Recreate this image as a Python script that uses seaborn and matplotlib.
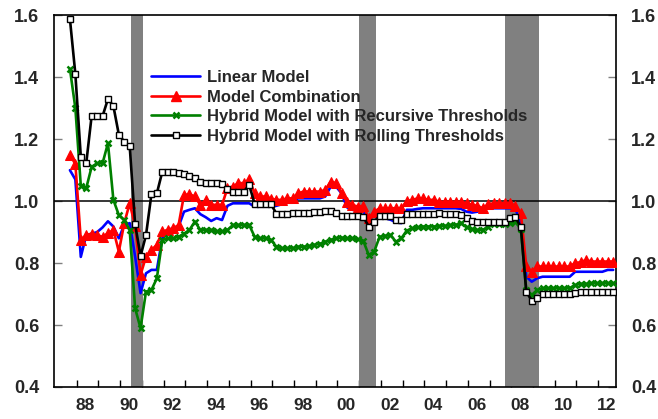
import matplotlib
matplotlib.use('Agg')
import matplotlib.pyplot as plt
from matplotlib.lines import Line2D
import numpy as np
import pandas as pd
import seaborn as sns

# Trimestres 1987Q3 - 2012Q3
quarters = pd.period_range('1987Q3', '2012Q3', freq='Q')

linear_model = [
    1.10, 1.07, 0.82, 0.89, 0.895, 0.90, 0.915, 0.935, 0.918, 0.88,
    0.923, 0.929, 0.821, 0.703, 0.767, 0.778, 0.778, 0.88, 0.907, 0.912,
    0.918, 0.966, 0.972, 0.977, 0.958, 0.948, 0.936, 0.945, 0.939, 0.985,
    0.993, 0.993, 0.993, 0.993, 0.982, 0.982, 0.982, 0.982, 0.985, 0.99,
    0.995, 1.0, 1.009, 1.009, 1.009, 1.009, 1.009, 1.015, 1.047, 1.047,
    1.025, 0.98, 0.972, 0.97, 0.966, 0.939, 0.955, 0.95, 0.945, 0.94,
    0.932, 0.929, 0.972, 0.972, 0.975, 0.977, 0.977, 0.977, 0.977, 0.977,
    0.977, 0.977, 0.975, 0.966, 0.963, 0.966, 0.972, 0.977, 0.977, 0.977,
    0.977, 0.977, 0.975, 0.93, 0.756, 0.74, 0.751, 0.756, 0.756, 0.756,
    0.756, 0.756, 0.756, 0.772, 0.772, 0.772, 0.772, 0.772, 0.772, 0.778, 0.778,
]

model_combination = [
    1.149, 1.12, 0.875, 0.89, 0.895, 0.89, 0.885, 0.896, 0.907, 0.837,
    0.929, 0.993, 0.92, 0.762, 0.821, 0.842, 0.859, 0.902, 0.907, 0.912,
    0.923, 1.02, 1.022, 1.015, 0.988, 1.004, 0.988, 0.988, 0.988, 1.042,
    1.047, 1.058, 1.058, 1.07, 1.025, 1.015, 1.015, 1.008, 1.004, 1.004,
    1.009, 1.009, 1.025, 1.031, 1.031, 1.031, 1.031, 1.036, 1.063, 1.058,
    1.025, 0.998, 0.988, 0.982, 0.985, 0.945, 0.966, 0.977, 0.977, 0.977,
    0.977, 0.977, 1.0, 1.004, 1.009, 1.009, 1.004, 1.004, 0.998, 0.998,
    0.998, 0.998, 0.998, 0.993, 0.988, 0.985, 0.977, 0.99, 0.993, 0.993,
    0.993, 0.993, 0.985, 0.961, 0.789, 0.772, 0.789, 0.789, 0.789, 0.789,
    0.789, 0.789, 0.789, 0.80, 0.803, 0.81, 0.805, 0.805, 0.805, 0.805, 0.805,
]

hybrid_recursive = [
    1.427, 1.30, 1.05, 1.042, 1.111, 1.122, 1.122, 1.187, 1.004, 0.955,
    0.939, 0.907, 0.654, 0.59, 0.708, 0.713, 0.751, 0.875, 0.88, 0.88,
    0.885, 0.895, 0.907, 0.934, 0.907, 0.907, 0.907, 0.902, 0.902, 0.907,
    0.923, 0.923, 0.923, 0.923, 0.885, 0.88, 0.88, 0.875, 0.853, 0.848,
    0.848, 0.848, 0.853, 0.853, 0.855, 0.859, 0.862, 0.869, 0.875, 0.88,
    0.882, 0.88, 0.88, 0.877, 0.872, 0.826, 0.837, 0.885, 0.888, 0.891,
    0.869, 0.88, 0.905, 0.912, 0.915, 0.918, 0.918, 0.918, 0.92, 0.92,
    0.923, 0.923, 0.93, 0.915, 0.91, 0.907, 0.907, 0.918, 0.925, 0.925,
    0.925, 0.929, 0.934, 0.91, 0.713, 0.697, 0.713, 0.719, 0.719, 0.719,
    0.719, 0.719, 0.719, 0.729, 0.733, 0.733, 0.735, 0.735, 0.735, 0.735, 0.735,
]

hybrid_rolling = [
    1.588, 1.41, 1.144, 1.122, 1.276, 1.276, 1.274, 1.33, 1.307, 1.215,
    1.192, 1.178, 0.925, 0.823, 0.89, 1.022, 1.025, 1.095, 1.095, 1.093,
    1.09, 1.087, 1.08, 1.075, 1.062, 1.06, 1.06, 1.058, 1.055, 1.04,
    1.031, 1.031, 1.031, 1.052, 0.991, 0.99, 0.99, 0.99, 0.96, 0.96,
    0.96, 0.962, 0.963, 0.963, 0.963, 0.965, 0.965, 0.968, 0.968, 0.962,
    0.952, 0.952, 0.952, 0.952, 0.95, 0.918, 0.934, 0.952, 0.952, 0.952,
    0.939, 0.939, 0.959, 0.959, 0.959, 0.96, 0.96, 0.96, 0.962, 0.96,
    0.96, 0.96, 0.955, 0.945, 0.935, 0.933, 0.933, 0.933, 0.933, 0.933,
    0.933, 0.946, 0.949, 0.916, 0.708, 0.679, 0.686, 0.70, 0.70, 0.70,
    0.70, 0.70, 0.70, 0.705, 0.708, 0.708, 0.708, 0.708, 0.708, 0.708, 0.708,
]

# Recesiones (años decimales)
recessions = [(1990.49, 1991.04), (2000.98, 2001.79), (2007.72, 2009.29)]

year_labels = ['88', '90', '92', '94', '96', '98', '00', '02', '04', '06', '08', '10', '12']
y_ticks = [0.4, 0.6, 0.8, 1.0, 1.2, 1.4, 1.6]

# Posición de cada trimestre en el eje (año decimal)
x = np.asarray(quarters.year + (quarters.quarter - 1) / 4 + 0.19)

sns.set_theme(style='white')
plt.rcParams['font.family'] = ['Liberation Sans', 'DejaVu Sans']
plt.rcParams['font.weight'] = 'bold'

fig = plt.figure(figsize=(6.58, 4.19), dpi=100)
ax = fig.add_axes([0.0825, 0.0764, 0.8537, 0.8871])

for start, end in recessions:
    ax.axvspan(start, end, color='#808080', zorder=1, lw=0)
ax.axhline(1.0, color='black', lw=1.1, zorder=2)

sns.lineplot(x=x, y=linear_model, ax=ax, color='#0000ff', lw=1.9, zorder=3)
sns.lineplot(x=x, y=model_combination, ax=ax, color='#ff0000', lw=1.9,
             marker='^', markersize=6.5, markeredgecolor='#ff0000', zorder=4)
sns.lineplot(x=x, y=hybrid_recursive, ax=ax, color='#008000', lw=1.9,
             marker='x', markersize=4.8, markeredgewidth=1.8, markeredgecolor='#008000', zorder=5)
sns.lineplot(x=x, y=hybrid_rolling, ax=ax, color='black', lw=1.9,
             marker='s', markersize=4.8, markerfacecolor='white',
             markeredgecolor='black', markeredgewidth=1.0, zorder=6)

ax.set_xlim(1986.97, 2012.82)
ax.set_ylim(0.4, 1.6)
ax.set_xlabel('')
ax.set_ylabel('')

# Marcas anuales, etiquetas cada dos años
ax.set_xticks(np.arange(1988, 2013))
ax.set_xticklabels([])
ax.set_xticks([1988.4 + 2 * k for k in range(len(year_labels))], minor=True)
ax.set_xticklabels(year_labels, minor=True)
ax.tick_params(axis='x', which='major', direction='in', length=5, width=1, color='black', bottom=True)
ax.tick_params(axis='x', which='minor', length=0, pad=8, labelsize=12.5)

ax.set_yticks(y_ticks)
ax.set_yticklabels([f'{v:.1f}' for v in y_ticks])
ax.tick_params(axis='y', direction='in', length=6, width=1, color='#808080',
               left=True, right=True, labelleft=True, labelright=True, pad=11, labelsize=13)

for spine in ax.spines.values():
    spine.set_color('black')
    spine.set_linewidth(1.2)

handles = [
    Line2D([], [], color='#0000ff', lw=1.9),
    Line2D([], [], color='#ff0000', lw=1.9, marker='^', markersize=6.5),
    Line2D([], [], color='#008000', lw=1.9, marker='x', markersize=5, markeredgewidth=1.8),
    Line2D([], [], color='black', lw=1.9, marker='s', markersize=5, markerfacecolor='white'),
]
labels = ['Linear Model', 'Model Combination',
          'Hybrid Model with Recursive Thresholds', 'Hybrid Model with Rolling Thresholds']
ax.legend(handles, labels, loc='upper left', bbox_to_anchor=(0.173, 0.852), frameon=False,
          handlelength=2.9, handletextpad=0.42, labelspacing=0.27, borderpad=0,
          borderaxespad=0, prop={'weight': 'bold', 'size': 12})

fig.savefig('out.png', dpi=100)
